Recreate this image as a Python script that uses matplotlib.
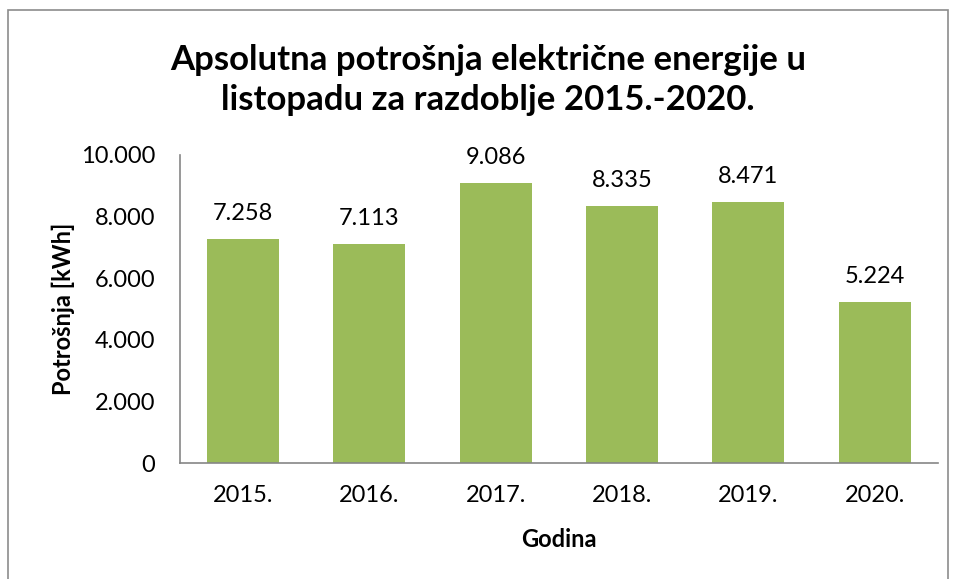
import matplotlib
matplotlib.use("Agg")
import matplotlib.pyplot as plt
from matplotlib.patches import Rectangle
from matplotlib.ticker import FuncFormatter

godine = ["2015.", "2016.", "2017.", "2018.", "2019.", "2020."]
potrosnja = [7258, 7113, 9086, 8335, 8471, 5224]
y_ticks = [0, 2000, 4000, 6000, 8000, 10000]

plt.rcParams["font.family"] = ["Lato", "DejaVu Sans"]


def hr_format(v, pos=None):
    # hrvatski zapis tisuca: 7.258
    return f"{int(round(v)):,}".replace(",", ".")


fig = plt.figure(figsize=(9.57, 5.79), dpi=100)
ax = fig.add_axes([0.188, 0.2003, 0.792, 0.532])

# okvir oko cijelog grafa
fig.patches.append(Rectangle((8 / 957, -0.01), 940 / 957, 1 - 10 / 579 + 0.01,
                             transform=fig.transFigure, fill=False,
                             edgecolor="#8c8c8c", linewidth=1.2))

x = range(len(godine))
bars = ax.bar(x, potrosnja, width=0.57, color="#9BBB59")

for b, v in zip(bars, potrosnja):
    ax.annotate(hr_format(v), (b.get_x() + b.get_width() / 2, v),
                xytext=(0, 11), textcoords="offset points",
                ha="center", va="bottom", fontsize=17)

ax.set_xlim(-0.5, len(godine) - 0.5)
ax.set_ylim(0, 10000)
ax.set_xticks(list(x))
ax.set_xticklabels(godine)
ax.set_yticks(y_ticks)
ax.yaxis.set_major_formatter(FuncFormatter(hr_format))
ax.tick_params(axis="both", length=0, labelsize=17)
ax.tick_params(axis="x", pad=16)
ax.tick_params(axis="y", pad=18)

for s in ["top", "right"]:
    ax.spines[s].set_visible(False)
for s in ["left", "bottom"]:
    ax.spines[s].set_color("#868686")
    ax.spines[s].set_linewidth(1.2)

ax.set_xlabel("Godina", fontsize=17, fontweight="bold", labelpad=16)
ax.set_ylabel("Potrošnja [kWh]", fontsize=17, fontweight="bold", labelpad=4)

fig.text(0.51, 0.862, "Apsolutna potrošnja električne energije u\nlistopadu za razdoblje 2015.-2020.",
         ha="center", va="center", fontsize=25, fontweight="bold", linespacing=1.3)

fig.savefig("out.png", dpi=100)
